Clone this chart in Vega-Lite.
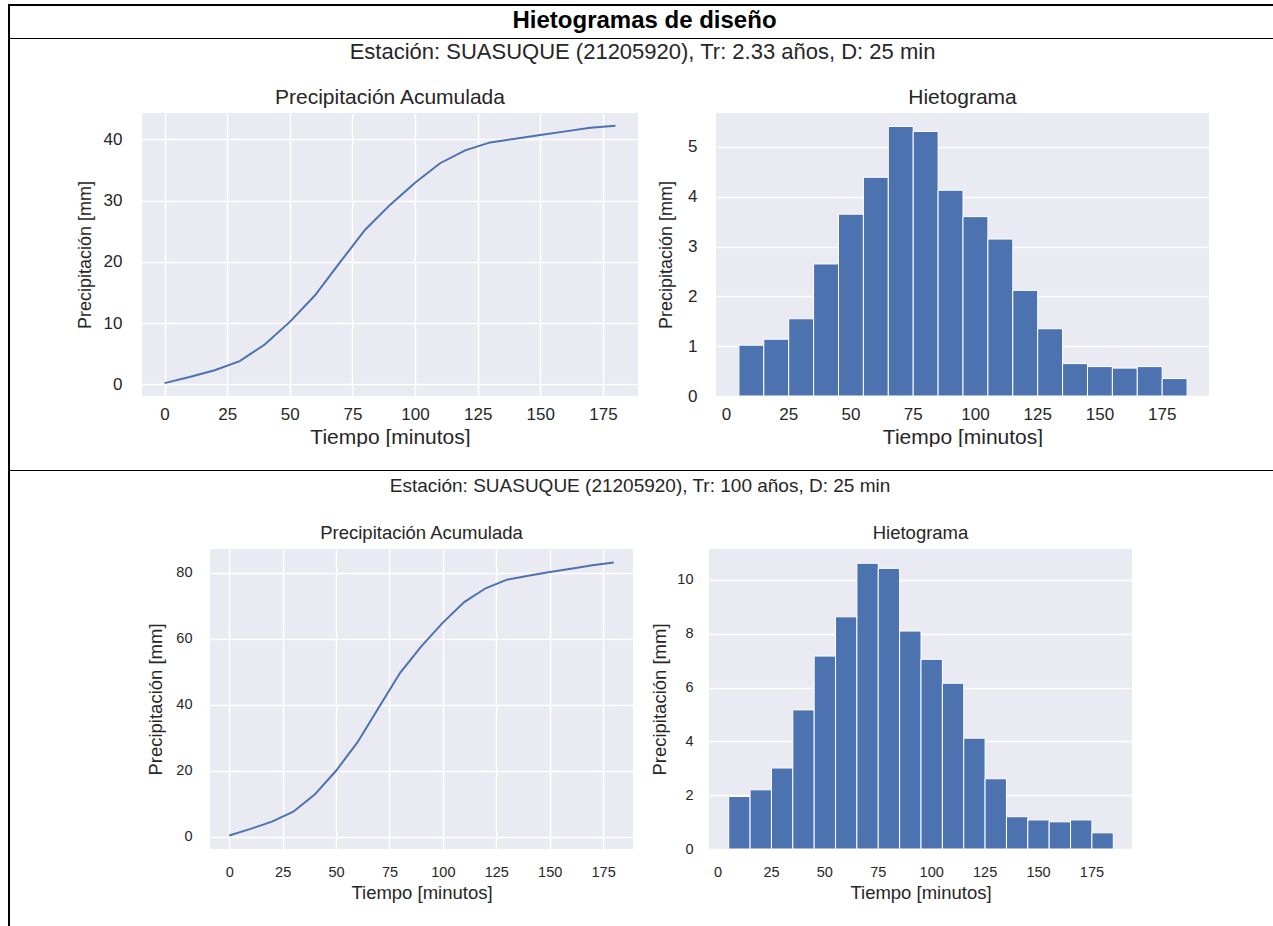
{
  "$schema": "https://vega.github.io/schema/vega-lite/v6.json",
  "background": "white",
  "padding": {"left": 8, "top": 4, "right": 0, "bottom": 0},
  "config": {
    "font": "Liberation Sans",
    "view": {"fill": "#EAEAF2", "stroke": null},
    "axis": {"domain": false, "ticks": false, "tickSize": 0, "gridColor": "white", "gridWidth": 1.5, "labelColor": "#262626", "titleColor": "#262626", "titleFontWeight": "normal", "labelFont": "Liberation Sans", "titleFont": "Liberation Sans"},
    "title": {"color": "#262626", "fontWeight": "normal", "font": "Liberation Sans"}
  },
  "spacing": 0,
  "hconcat": [
    {"width": 2, "height": 922, "data": {"values": []}, "mark": "rect", "view": {"fill": "black", "stroke": null}},
    {
      "spacing": 0,
      "vconcat": [
        {"width": 1263, "height": 2, "data": {"values": []}, "mark": "rect", "view": {"fill": "black", "stroke": null}},
        {"width": 1263, "height": 32, "data": {"values": [{"titulo": "Hietogramas de diseño"}]}, "view": {"fill": "white", "stroke": null},
         "mark": {"type": "text", "font": "Liberation Sans", "fontWeight": "bold", "fontSize": 24, "color": "black", "baseline": "middle", "dy": -1, "dx": 3},
         "encoding": {"text": {"field": "titulo", "type": "nominal"}}},
        {"width": 1263, "height": 1, "data": {"values": []}, "mark": "rect", "view": {"fill": "black", "stroke": null}},
        {"width": 1263, "height": 2, "data": {"values": []}, "mark": "rect", "view": {"fill": "white", "stroke": null}},
        {
          "title": {"text": "Estación: SUASUQUE (21205920), Tr: 2.33 años,  D: 25 min", "fontSize": 22, "offset": 23, "anchor": "middle", "dx": 33},
          "spacing": 19,
          "hconcat": [
            {"width": 47, "height": 10, "data": {"values": []}, "mark": "rect", "view": {"fill": "white", "stroke": null}},
            {
              "width": 496, "height": 283,
              "title": {"text": "Precipitación Acumulada", "fontSize": 21, "offset": 5},
              "data": {"values": [
                {"tiempo": 0, "precip": 0.2}, {"tiempo": 10, "precip": 1.2}, {"tiempo": 20, "precip": 2.3}, {"tiempo": 30, "precip": 3.8},
                {"tiempo": 40, "precip": 6.5}, {"tiempo": 50, "precip": 10.2}, {"tiempo": 60, "precip": 14.5}, {"tiempo": 70, "precip": 19.9},
                {"tiempo": 80, "precip": 25.2}, {"tiempo": 90, "precip": 29.3}, {"tiempo": 100, "precip": 32.9}, {"tiempo": 110, "precip": 36.1},
                {"tiempo": 120, "precip": 38.2}, {"tiempo": 130, "precip": 39.5}, {"tiempo": 140, "precip": 40.1}, {"tiempo": 150, "precip": 40.7},
                {"tiempo": 160, "precip": 41.3}, {"tiempo": 170, "precip": 41.9}, {"tiempo": 180, "precip": 42.2}
              ]},
              "mark": {"type": "line", "color": "#4C72B0", "strokeWidth": 2},
              "encoding": {
                "x": {"field": "tiempo", "type": "quantitative", "scale": {"domain": [-9, 189], "nice": false, "zero": false},
                      "axis": {"title": "Tiempo [minutos]", "values": [0, 25, 50, 75, 100, 125, 150, 175], "labelFontSize": 17, "titleFontSize": 21, "labelPadding": 10, "titlePadding": 4}},
                "y": {"field": "precip", "type": "quantitative", "scale": {"domain": [-1.9, 44.3], "nice": false, "zero": false},
                      "axis": {"title": "Precipitación [mm]", "values": [0, 10, 20, 30, 40], "labelFontSize": 17, "titleFontSize": 18, "labelPadding": 20, "titlePadding": 9}}
              }
            },
            {
              "width": 493, "height": 283,
              "title": {"text": "Hietograma", "fontSize": 21, "offset": 5},
              "data": {"values": [
                {"t0": 5, "t1": 15, "precip": 1.02}, {"t0": 15, "t1": 25, "precip": 1.14}, {"t0": 25, "t1": 35, "precip": 1.55},
                {"t0": 35, "t1": 45, "precip": 2.65}, {"t0": 45, "t1": 55, "precip": 3.65}, {"t0": 55, "t1": 65, "precip": 4.39},
                {"t0": 65, "t1": 75, "precip": 5.41}, {"t0": 75, "t1": 85, "precip": 5.31}, {"t0": 85, "t1": 95, "precip": 4.13},
                {"t0": 95, "t1": 105, "precip": 3.6}, {"t0": 105, "t1": 115, "precip": 3.15}, {"t0": 115, "t1": 125, "precip": 2.12},
                {"t0": 125, "t1": 135, "precip": 1.35}, {"t0": 135, "t1": 145, "precip": 0.65}, {"t0": 145, "t1": 155, "precip": 0.59},
                {"t0": 155, "t1": 165, "precip": 0.56}, {"t0": 165, "t1": 175, "precip": 0.59}, {"t0": 175, "t1": 185, "precip": 0.35}
              ]},
              "mark": {"type": "bar", "color": "#4C72B0", "stroke": "white", "strokeWidth": 1, "binSpacing": 0},
              "encoding": {
                "x": {"field": "t0", "type": "quantitative", "bin": "binned", "scale": {"domain": [-4, 194], "nice": false, "zero": false},
                      "axis": {"title": "Tiempo [minutos]", "values": [0, 25, 50, 75, 100, 125, 150, 175], "labelFontSize": 17, "titleFontSize": 21, "labelPadding": 10, "titlePadding": 4}},
                "x2": {"field": "t1"},
                "y": {"field": "precip", "type": "quantitative", "scale": {"domain": [0, 5.68], "nice": false},
                      "axis": {"title": "Precipitación [mm]", "values": [0, 1, 2, 3, 4, 5], "labelFontSize": 17, "titleFontSize": 18, "labelPadding": 19, "titlePadding": 12}}
              }
            }
          ]
        },
        {"width": 1263, "height": 23, "data": {"values": []}, "mark": "rect", "view": {"fill": "white", "stroke": null}},
        {"width": 1263, "height": 1, "data": {"values": []}, "mark": "rect", "view": {"fill": "black", "stroke": null}},
        {"width": 1263, "height": 5, "data": {"values": []}, "mark": "rect", "view": {"fill": "white", "stroke": null}},
        {
          "title": {"text": "Estación: SUASUQUE (21205920), Tr: 100 años,  D: 25 min", "fontSize": 19, "offset": 28, "anchor": "middle", "dx": 69},
          "spacing": 17,
          "hconcat": [
            {"width": 119, "height": 10, "data": {"values": []}, "mark": "rect", "view": {"fill": "white", "stroke": null}},
            {
              "width": 423, "height": 300,
              "title": {"text": "Precipitación Acumulada", "fontSize": 18.5, "offset": 7},
              "data": {"values": [
                {"tiempo": 0, "precip": 0.4}, {"tiempo": 10, "precip": 2.4}, {"tiempo": 20, "precip": 4.6}, {"tiempo": 30, "precip": 7.6},
                {"tiempo": 40, "precip": 12.8}, {"tiempo": 50, "precip": 20.0}, {"tiempo": 60, "precip": 28.6}, {"tiempo": 70, "precip": 39.2},
                {"tiempo": 80, "precip": 49.7}, {"tiempo": 90, "precip": 57.8}, {"tiempo": 100, "precip": 64.9}, {"tiempo": 110, "precip": 71.1},
                {"tiempo": 120, "precip": 75.3}, {"tiempo": 130, "precip": 77.9}, {"tiempo": 140, "precip": 79.1}, {"tiempo": 150, "precip": 80.2},
                {"tiempo": 160, "precip": 81.2}, {"tiempo": 170, "precip": 82.3}, {"tiempo": 180, "precip": 83.1}
              ]},
              "mark": {"type": "line", "color": "#4C72B0", "strokeWidth": 2},
              "encoding": {
                "x": {"field": "tiempo", "type": "quantitative", "scale": {"domain": [-9, 189], "nice": false, "zero": false},
                      "axis": {"title": "Tiempo [minutos]", "values": [0, 25, 50, 75, 100, 125, 150, 175], "labelFontSize": 14.5, "titleFontSize": 18.5, "labelPadding": 16, "titlePadding": 5}},
                "y": {"field": "precip", "type": "quantitative", "scale": {"domain": [-3.7, 87.2], "nice": false, "zero": false},
                      "axis": {"title": "Precipitación [mm]", "values": [0, 20, 40, 60, 80], "labelFontSize": 14.5, "titleFontSize": 18.5, "labelPadding": 18, "titlePadding": 10}}
              }
            },
            {
              "width": 423, "height": 300,
              "title": {"text": "Hietograma", "fontSize": 18.5, "offset": 7},
              "data": {"values": [
                {"t0": 5, "t1": 15, "precip": 1.95}, {"t0": 15, "t1": 25, "precip": 2.2}, {"t0": 25, "t1": 35, "precip": 3.01},
                {"t0": 35, "t1": 45, "precip": 5.17}, {"t0": 45, "t1": 55, "precip": 7.17}, {"t0": 55, "t1": 65, "precip": 8.63},
                {"t0": 65, "t1": 75, "precip": 10.62}, {"t0": 75, "t1": 85, "precip": 10.43}, {"t0": 85, "t1": 95, "precip": 8.1},
                {"t0": 95, "t1": 105, "precip": 7.05}, {"t0": 105, "t1": 115, "precip": 6.16}, {"t0": 115, "t1": 125, "precip": 4.12},
                {"t0": 125, "t1": 135, "precip": 2.61}, {"t0": 135, "t1": 145, "precip": 1.2}, {"t0": 145, "t1": 155, "precip": 1.08},
                {"t0": 155, "t1": 165, "precip": 1.01}, {"t0": 165, "t1": 175, "precip": 1.08}, {"t0": 175, "t1": 185, "precip": 0.6}
              ]},
              "mark": {"type": "bar", "color": "#4C72B0", "stroke": "white", "strokeWidth": 1, "binSpacing": 0},
              "encoding": {
                "x": {"field": "t0", "type": "quantitative", "bin": "binned", "scale": {"domain": [-4, 194], "nice": false, "zero": false},
                      "axis": {"title": "Tiempo [minutos]", "values": [0, 25, 50, 75, 100, 125, 150, 175], "labelFontSize": 14.5, "titleFontSize": 18.5, "labelPadding": 16, "titlePadding": 5}},
                "x2": {"field": "t1"},
                "y": {"field": "precip", "type": "quantitative", "scale": {"domain": [0, 11.15], "nice": false},
                      "axis": {"title": "Precipitación [mm]", "values": [0, 2, 4, 6, 8, 10], "labelFontSize": 14.5, "titleFontSize": 18.5, "labelPadding": 16, "titlePadding": 7}}
              }
            }
          ]
        }
      ]
    }
  ]
}
